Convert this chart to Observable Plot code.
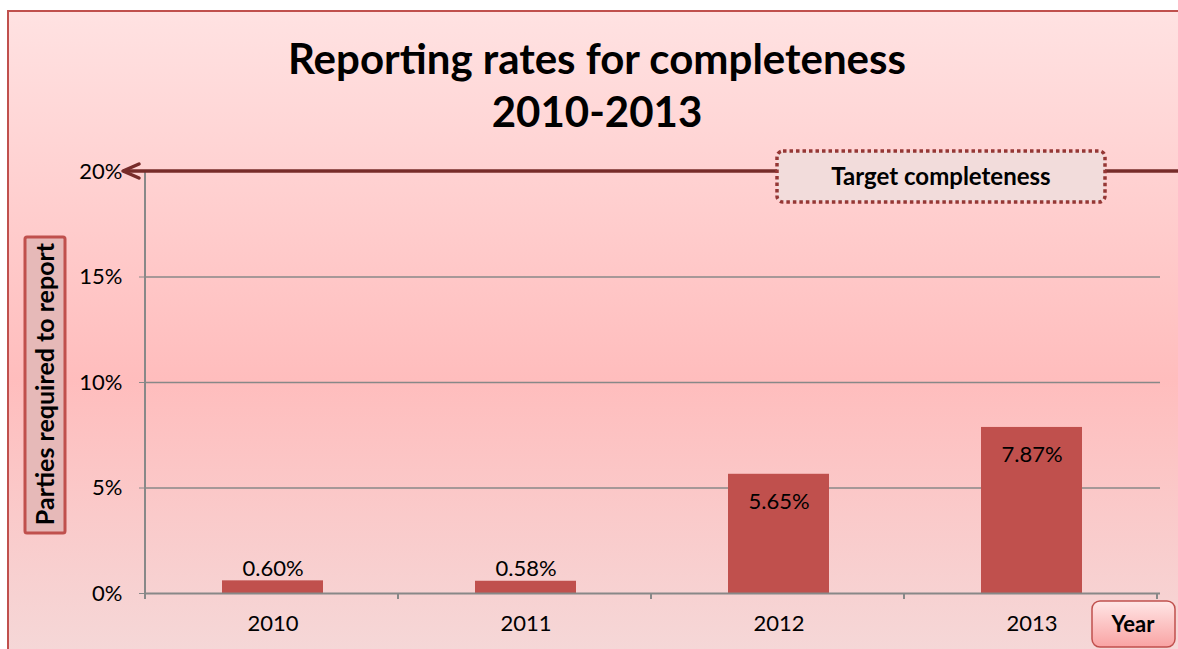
<!DOCTYPE html>
<html><head><meta charset="utf-8">
<script src="https://cdn.jsdelivr.net/npm/d3@7"></script>
<script src="https://cdn.jsdelivr.net/npm/@observablehq/plot@0.6"></script>
<style>body{margin:0;background:#fff;} svg{display:block}</style>
</head><body><div id="chart"></div>
<script>
const years = ["2010", "2011", "2012", "2013"];
const rates = [0.60, 0.58, 5.65, 7.87];
const yTicks = [0, 5, 10, 15, 20];
const target = 20;
const titleLines = ["Reporting rates for completeness", "2010-2013"];
const targetLabel = "Target completeness";
const yTitle = "Parties required to report";
const xTitle = "Year";

const data = years.map((year, i) => ({year, rate: rates[i]}));
const W = 1178, H = 649;
const font = "Lato, 'Open Sans', sans-serif";
const fmt = d => d.toFixed(2) + "%";

const plot = Plot.plot({
  width: W, height: H,
  marginLeft: 145, marginRight: 18, marginTop: 171, marginBottom: 56,
  style: {fontFamily: font, background: "transparent", color: "#000", overflow: "visible"},
  x: {domain: years, paddingInner: 0.6, paddingOuter: 0.3, label: null},
  y: {domain: [0, target], label: null},
  marks: [
    Plot.gridY(yTicks.filter(t => t > 0 && t < target), {stroke: "#888", strokeOpacity: 1, strokeWidth: 1.5}),
    Plot.barY(data, {x: "year", y: "rate", fill: "#c0504d"}),
    Plot.ruleY([0], {stroke: "#888", strokeWidth: 2}),
    Plot.axisY({ticks: yTicks, tickSize: 6, tickPadding: 17, tickFormat: d => d + "%", fontSize: 22, stroke: "#888", fill: "#000", label: null}),
    Plot.axisX({tickSize: 0, tickPadding: 22, fontSize: 22, fill: "#000", label: null}),
    Plot.text(data.filter(d => d.rate < 2), {x: "year", y: "rate", text: d => fmt(d.rate), dy: -12, fontSize: 22, fill: "#000"}),
    Plot.text(data.filter(d => d.rate >= 2), {x: "year", y: "rate", text: d => fmt(d.rate), dy: 28, fontSize: 22, fill: "#000"})
  ]
});

const svg = d3.select(plot);
const xs = plot.scale("x"), ys = plot.scale("y");
const x0 = xs.range[0], x1 = xs.range[1];
const y0 = ys.apply(0), yT = ys.apply(target);

const defs = svg.insert("defs", ":first-child");
const bg = defs.append("linearGradient").attr("id", "bgGrad").attr("x1", 0).attr("y1", 0).attr("x2", 0).attr("y2", 1);
bg.append("stop").attr("offset", "0%").attr("stop-color", "#ffe2e2");
bg.append("stop").attr("offset", "55%").attr("stop-color", "#ffbdbd");
bg.append("stop").attr("offset", "100%").attr("stop-color", "#f4dada");
const yg = defs.append("linearGradient").attr("id", "yearGrad").attr("x1", 0).attr("y1", 0).attr("x2", 0).attr("y2", 1);
yg.append("stop").attr("offset", "0%").attr("stop-color", "#ffe6e6");
yg.append("stop").attr("offset", "100%").attr("stop-color", "#f9a3a3");

svg.insert("rect", "defs + *")
  .attr("x", 8).attr("y", 11).attr("width", W + 20).attr("height", H + 20)
  .attr("fill", "url(#bgGrad)").attr("stroke", "#c0504d").attr("stroke-width", 2);

// axes lines and boundary ticks
const deco = svg.append("g").attr("stroke", "#888").attr("stroke-width", 2);
deco.append("line").attr("x1", x0).attr("x2", x0).attr("y1", yT).attr("y2", y0 + 6);
d3.range(1, years.length + 1).forEach(i => {
  const bx = x0 + i * xs.step;
  deco.append("line").attr("x1", bx).attr("x2", bx).attr("y1", y0).attr("y2", y0 + 6);
});

// title
const title = svg.append("text").attr("text-anchor", "middle").attr("font-family", font)
  .attr("font-weight", "bold").attr("font-size", 42).attr("fill", "#000");
titleLines.forEach((t, i) => title.append("tspan").attr("x", 597).attr("y", 74 + i * 53).text(t));

// target line with arrow
const tg = svg.append("g");
tg.append("line").attr("x1", x0 - 22).attr("x2", W + 5).attr("y1", yT).attr("y2", yT)
  .attr("stroke", "#772c2a").attr("stroke-width", 3.5);
tg.append("path").attr("d", `M${x0 - 6},${yT - 7} L${x0 - 22},${yT} L${x0 - 6},${yT + 7}`)
  .attr("fill", "none").attr("stroke", "#772c2a").attr("stroke-width", 3.5).attr("stroke-linecap", "round").attr("stroke-linejoin", "round");
tg.append("rect").attr("x", 777).attr("y", yT - 20).attr("width", 328).attr("height", 51).attr("rx", 6)
  .attr("fill", "#f2dcdb").attr("stroke", "#953735").attr("stroke-width", 3.5).attr("stroke-dasharray", "3.5 3");
tg.append("text").attr("x", 941).attr("y", yT + 14).attr("text-anchor", "middle").attr("font-family", font)
  .attr("font-weight", "bold").attr("font-size", 24).attr("fill", "#000").text(targetLabel);

// y title box
const yb = svg.append("g");
yb.append("rect").attr("x", 25).attr("y", 237).attr("width", 40).attr("height", 296).attr("rx", 2)
  .attr("fill", "#e6b9b8").attr("stroke", "#c0504d").attr("stroke-width", 3);
yb.append("text").attr("transform", "translate(54,384) rotate(-90)").attr("text-anchor", "middle")
  .attr("font-family", font).attr("font-weight", "bold").attr("font-size", 25).attr("fill", "#000").text(yTitle);

// x title box
const xb = svg.append("g");
xb.append("rect").attr("x", 1092).attr("y", 601).attr("width", 83).attr("height", 46).attr("rx", 8)
  .attr("fill", "url(#yearGrad)").attr("stroke", "#c0504d").attr("stroke-width", 1.5);
xb.append("text").attr("x", 1133).attr("y", 632).attr("text-anchor", "middle")
  .attr("font-family", font).attr("font-weight", "bold").attr("font-size", 22).attr("fill", "#000").text(xTitle);

document.getElementById("chart").appendChild(plot);
</script>
</body></html>
